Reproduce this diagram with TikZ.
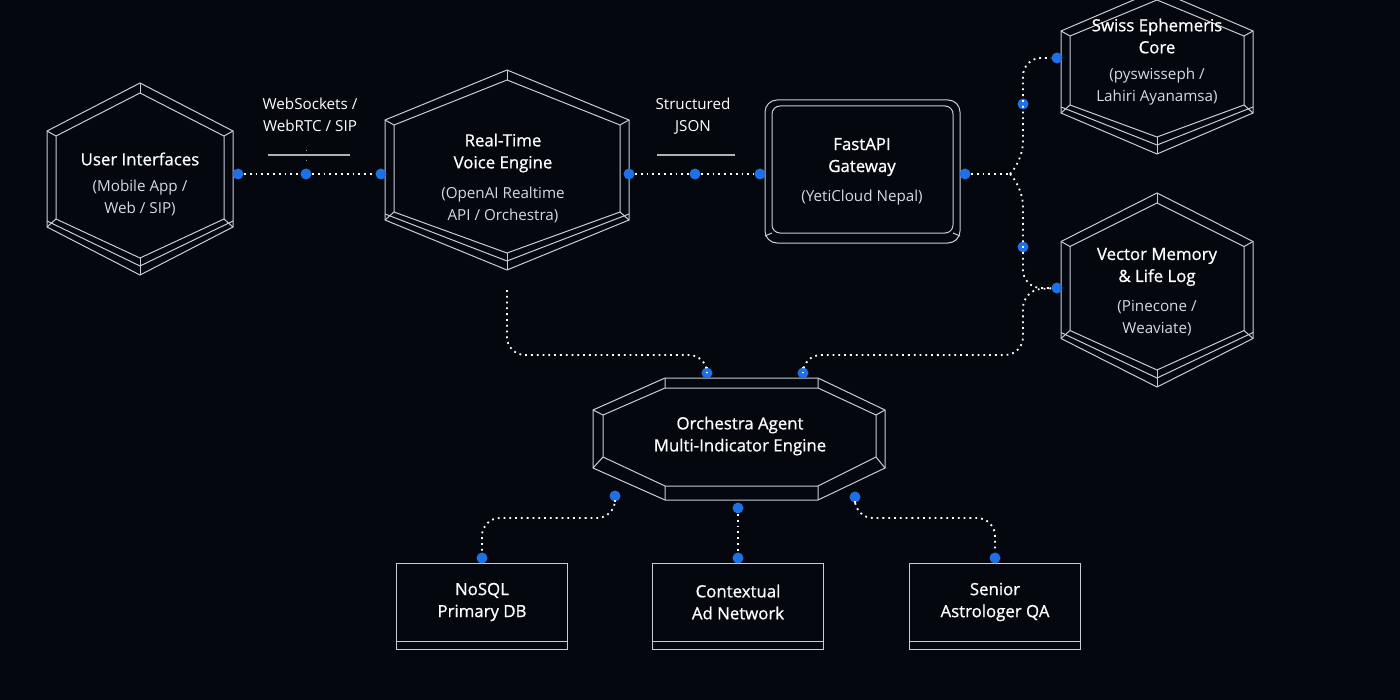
\documentclass[tikz,border=0pt]{standalone}
\usepackage{fontspec}
\setmainfont{Open Sans}
\newfontfamily\semifont{Open Sans}[FakeBold=0.8]
\usetikzlibrary{positioning,calc}

\definecolor{bgcol}{HTML}{05070F}
\definecolor{edgecol}{HTML}{C8CCD4}
\definecolor{dotblue}{HTML}{1F6FE5}
\definecolor{subcol}{HTML}{D6D9DF}

% pointy hexagon frame: cx, cy, half width, half height
\newcommand{\hexframe}[4]{%
  \draw[frame] (#1,#2-#4) -- (#1+#3,#2-#4/2) -- (#1+#3,#2+#4/2) -- (#1,#2+#4)
    -- (#1-#3,#2+#4/2) -- (#1-#3,#2-#4/2) -- cycle;
  \draw[frame] (#1,#2-#4+10) -- (#1+#3-9,#2-#4/2+5) -- (#1+#3-9,#2+#4/2-8) -- (#1,#2+#4-17)
    -- (#1-#3+9,#2+#4/2-8) -- (#1-#3+9,#2-#4/2+5) -- cycle;
  \draw[frame] (#1+#3,#2+#4/2-6) -- (#1,#2+#4-9) -- (#1-#3,#2+#4/2-6);
  \foreach \dx/\dy/\ix/\iy in {0/-1/0/10, 1/-.5/-9/5, 1/.5/-9/-8, 0/1/0/-17, -1/.5/9/-8, -1/-.5/9/5}
    \draw[frame] (#1+\dx*#3,#2+\dy*#4) -- (#1+\dx*#3+\ix,#2+\dy*#4+\iy);
}

\begin{document}
\begin{tikzpicture}[x=0.5pt, y=-0.5pt,
    frame/.style={draw=edgecol, line width=0.5pt},
    link/.style={draw=white, line width=0.9pt, dotted, rounded corners=9},
    dot/.style={circle, fill=dotblue, inner sep=0pt, minimum size=5.5pt},
    title/.style={text=white, align=center, font=\semifont\fontsize{8.4}{11}\selectfont},
    note/.style={text=subcol, align=center, font=\fontsize{7.6}{11}\selectfont}]
  \useasboundingbox (0,0) rectangle (1400,700);
  \fill[bgcol] (0,0) rectangle (1400,700);
  \clip (0,0) rectangle (1400,700);

  % hexagon frames
  \hexframe{140}{179}{93}{96}
  \hexframe{507}{170}{122}{100}
  \hexframe{1157}{72}{96}{82}
  \hexframe{1157}{290}{96}{97}

  % gateway box
  \draw[frame, rounded corners=6] (765,100) rectangle (960,243);
  \draw[frame, rounded corners=4] (772,106) rectangle (953,233);
  \draw[frame] (765,236) -- (772,233) (960,236) -- (953,233);

  % orchestra octagon
  \draw[frame] (665,378) -- (818,378) -- (885,410) -- (885,468) -- (818,500)
    -- (665,500) -- (593,468) -- (593,410) -- cycle;
  \draw[frame] (665,388) -- (818,388) -- (876,415) -- (876,457) -- (818,486)
    -- (665,486) -- (603,457) -- (603,415) -- cycle;
  \draw[frame] (665,378) -- (665,388) (818,378) -- (818,388) (885,410) -- (876,415)
    (593,410) -- (603,415) (885,468) -- (876,457) (593,468) -- (603,457)
    (665,500) -- (665,486) (818,500) -- (818,486);

  % bottom boxes
  \foreach \bx in {396,652,909} {
    \draw[frame] (\bx,563) rectangle (\bx+171,649);
    \draw[frame] (\bx,641) -- (\bx+171,641);
  }

  % texts
  \node[title] (ui) at (140,159) {User Interfaces};
  \node[note, below=0pt of ui] (uisub) {(Mobile App /\\Web / SIP)};
  \node[title] (rt) at (503,153) {Real-Time\\Voice Engine};
  \node[note, below=0pt of rt] (rtsub) {(OpenAI Realtime\\API / Orchestra)};
  \node[title] (api) at (862,157) {FastAPI\\Gateway};
  \node[note, below=0pt of api] (apisub) {(YetiCloud Nepal)};
  \node[title] (sw) at (1157,36) {Swiss Ephemeris\\Core};
  \node[note, below=0pt of sw] (swsub) {(pyswisseph /\\Lahiri Ayanamsa)};
  \node[title] (vm) at (1157,267) {Vector Memory\\\& Life Log};
  \node[note, below=0pt of vm] (vmsub) {(Pinecone /\\Weaviate)};
  \node[title] (orc) at (740,436) {Orchestra Agent\\Multi-Indicator Engine};
  \node[title] (db) at (482,602) {NoSQL\\Primary DB};
  \node[title] (ad) at (738,602) {Contextual\\Ad Network};
  \node[title] (qa) at (995,602) {Senior\\Astrologer QA};
  \node[note, text=white] (ws) at (310,115) {WebSockets /\\WebRTC / SIP};
  \node[note, text=white] (js) at (693,116) {Structured\\JSON};

  % label rules
  \draw[draw=gray!60, line width=0.6pt] (268,155) -- (350,155);
  \draw[draw=gray!60, line width=0.6pt] (657,155) -- (735,155);
  \draw[draw=gray!80, dotted] (306,150) -- (306,160);

  % connection points
  \node[dot] (ui-r) at (238,174) {};
  \node[dot] (ws-m) at (306,174) {};
  \node[dot] (rt-l) at (381,174) {};
  \node[dot] (rt-r) at (629,174) {};
  \node[dot] (js-m) at (695,174) {};
  \node[dot] (api-l) at (760,174) {};
  \node[dot] (api-r) at (965,174) {};
  \node[dot] (sw-l) at (1057,58) {};
  \node[dot] (up-m) at (1023,104) {};
  \node[dot] (dn-m) at (1023,247) {};
  \node[dot] (vm-l) at (1057,288) {};
  \node[dot] (orc-t1) at (707,373) {};
  \node[dot] (orc-t2) at (803,373) {};
  \node[dot] (orc-b1) at (615,496) {};
  \node[dot] (orc-b2) at (738,508) {};
  \node[dot] (orc-b3) at (855,497) {};
  \node[dot] (db-t) at (482,558) {};
  \node[dot] (ad-t) at (738,558) {};
  \node[dot] (qa-t) at (995,558) {};
  \coordinate (rt-b) at (507,290);
  \coordinate (br) at (1010,174);

  % connectors
  \draw[link] (ui-r) -- (ws-m) -- (rt-l);
  \draw[link] (rt-r) -- (js-m) -- (api-l);
  \draw[link] (api-r) -- (br);
  \draw[link] (br) -- (1023,160) -- (1023,58) -- (sw-l);
  \draw[link] (br) -- (1023,188) -- (1023,288) -- (vm-l);
  \draw[link] (rt-b) |- (707,355) -- (orc-t1);
  \draw[link] (vm-l) -- (1023,290) -- (1023,355) -| (orc-t2);
  \draw[link] (orc-b1) |- (482,518) -- (db-t);
  \draw[link] (orc-b2) -- (ad-t);
  \draw[link] (orc-b3) |- (995,518) -- (qa-t);
\end{tikzpicture}
\end{document}
